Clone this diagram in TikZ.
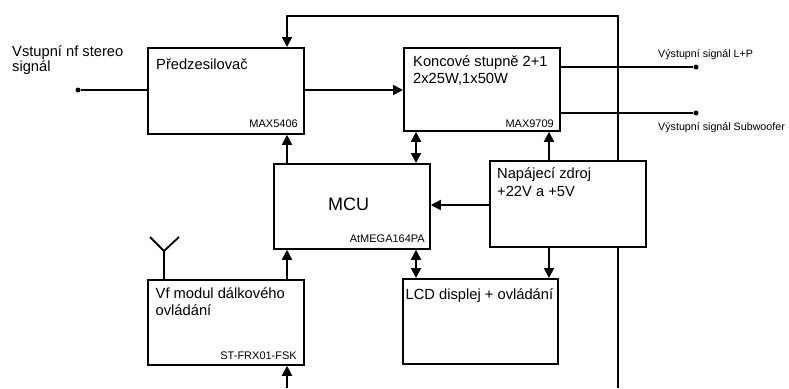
\documentclass[tikz,border=0pt]{standalone}
\usepackage{fontspec}
\setmainfont{Liberation Sans}
\usetikzlibrary{arrows.meta}
\begin{document}
\begin{tikzpicture}[x=1pt,y=-1pt,
  box/.style={draw, line width=1.8pt, fill=white, inner sep=0pt, anchor=north west},
  conn/.style={line width=1.8pt},
  arr/.style={conn, -{Triangle[length=10pt,width=10pt]}},
  darr/.style={conn, {Triangle[length=10pt,width=10pt]}-{Triangle[length=10pt,width=10pt]}},
  txt/.style={font=\fontsize{14.7}{17}\selectfont, inner sep=0pt, anchor=base west},
  big/.style={font=\fontsize{18}{21}\selectfont, inner sep=0pt, anchor=base west},
  part/.style={font=\fontsize{11}{13}\selectfont, inner sep=0pt, anchor=base east},
  outl/.style={font=\fontsize{10.7}{13}\selectfont, inner sep=0pt, anchor=base west},
  dot/.style={circle, fill, inner sep=0pt, minimum size=5pt}]
\useasboundingbox (0,0) rectangle (789,388);
% boxes
\node[box, minimum width=156pt, minimum height=86pt] (pre) at (147,47) {};
\node[box, minimum width=156pt, minimum height=83pt] (kon) at (403,47) {};
\node[box, minimum width=156pt, minimum height=85pt] (mcu) at (273,163) {};
\node[box, minimum width=156pt, minimum height=86pt] (pz) at (489,160) {};
\node[box, minimum width=155pt, minimum height=85pt] (lcd) at (402,278) {};
\node[box, minimum width=156pt, minimum height=85pt] (vf) at (147,279) {};
% helper coordinates
\coordinate (xa) at (287,0);
\coordinate (xk) at (416,0);
\coordinate (xp) at (549,0);
\coordinate (xr) at (618,0);
\coordinate (tl) at (287,16);
\coordinate (tr) at (618,16);
\coordinate (br) at (618,388);
\coordinate (bv) at (287,388);
\coordinate (yc) at (0,205);
\coordinate (xant) at (164,0);
% dots
\node[dot] (in) at (78,90) {};
\node[dot] (o1) at (696,67) {};
\node[dot] (o2) at (696,113) {};
% connectors
\draw[conn] (in) -- (pre.west |- in);
\draw[arr] (pre.east |- in) -- (kon.west |- in);
\draw[conn] (kon.east |- o1) -- (o1);
\draw[conn] (kon.east |- o2) -- (o2);
\draw[arr, line join=miter] (pz.north -| xr) -- (tr) -- (tl) -- (pre.north -| tl);
\draw[conn] (pz.south -| xr) -- (br);
\draw[arr] (mcu.north -| xa) -- (pre.south -| xa);
\draw[darr] (kon.south -| xk) -- (mcu.north -| xk);
\draw[arr] (pz.north -| xp) -- (kon.south -| xp);
\draw[arr] (pz.west |- yc) -- (mcu.east |- yc);
\draw[darr] (mcu.south -| xk) -- (lcd.north -| xk);
\draw[arr] (pz.south -| xp) -- (lcd.north -| xp);
\draw[arr] (vf.north -| xa) -- (mcu.south -| xa);
\draw[arr] (bv) -- (vf.south -| xa);
% antenna
\coordinate (ant) at (164,251);
\coordinate (antl) at (150,237);
\coordinate (antr) at (179,237);
\draw[conn] (vf.north -| xant) -- (ant);
\draw[conn, line join=miter] (antl) -- (ant) -- (antr);
% texts
\node[txt] (t1) at (12,56.7) {Vstupní nf stereo};
\node[txt] (t2) at (12,71.7) {signál};
\node[txt] (t3) at (156,69.3) {Předzesilovač};
\node[part] (t4) at (298,127.7) {MAX5406};
\node[txt] (t5) at (413,66) {Koncové stupně 2+1};
\node[txt] (t6) at (413,83) {2x25W,1x50W};
\node[part] (t7) at (554,127.7) {MAX9709};
\node[outl] (t8) at (658,57) {Výstupní signál L+P};
\node[outl] (t9) at (658,130.5) {Výstupní signál Subwoofer};
\node[txt] (t10) at (497,178) {Napájecí zdroj};
\node[txt] (t11) at (497,196) {+22V a +5V};
\node[big] (t12) at (328,210.7) {MCU};
\node[part] (t13) at (425,242.7) {AtMEGA164PA};
\node[txt] (t14) at (155.5,298.7) {Vf modul dálkového};
\node[txt] (t15) at (155.5,315.7) {ovládání};
\node[part] (t16) at (297,359.3) {ST-FRX01-FSK};
\node[txt] (t17) at (405.5,299.3) {LCD displej + ovládání};
\end{tikzpicture}
\end{document}
